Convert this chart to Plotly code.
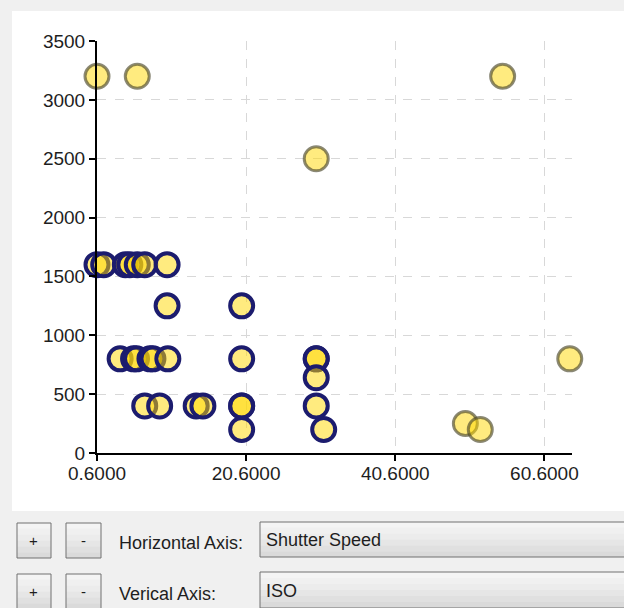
import plotly.graph_objects as go

# ---- data ----
shutter_selected = [0.6, 1.5, 4.4, 5.0, 6.0, 7.0, 10.0,
                    10.0, 20.0,
                    3.7, 5.5, 5.9, 7.7, 8.1, 10.1, 20.0, 30.0, 30.0,
                    30.0,
                    7.0, 9.0, 13.9, 14.8, 20.0, 20.0, 30.0,
                    20.0, 31.0]
iso_selected = [1600, 1600, 1600, 1600, 1600, 1600, 1600,
                1250, 1250,
                800, 800, 800, 800, 800, 800, 800, 800, 800,
                640,
                400, 400, 400, 400, 400, 400, 400,
                200, 200]

shutter_other = [0.6, 6.0, 55.0, 30.0, 64.0, 50.0, 52.0]
iso_other = [3200, 3200, 3200, 2500, 800, 250, 200]

x_ticks = [0.6, 20.6, 40.6, 60.6]
y_ticks = [0, 500, 1000, 1500, 2000, 2500, 3000, 3500]
x_range = [0.6, 64.3]
y_range = [0, 3500]

h_axis_label = "Horizontal Axis:"
v_axis_label = "Verical Axis:"
h_axis_value = "Shutter Speed"
v_axis_value = "ISO"

# ---- geometry (pixels) ----
W, H = 624, 608
L, R, T, B = 97, 572, 41, 453


def px(x):
    return (x - L) / (R - L)


def py(y):
    return (B - y) / (B - T)


FONT = "Liberation Sans"
TICKFONT = dict(family=FONT, size=19, color="#1e1e1e")

fig = go.Figure()
fig.add_trace(go.Scatter(
    x=shutter_other, y=iso_other, mode="markers", cliponaxis=False,
    marker=dict(size=24, color="rgba(255,215,0,0.5)",
                line=dict(color="rgba(75,72,45,0.65)", width=3)),
    hoverinfo="x+y", showlegend=False))
fig.add_trace(go.Scatter(
    x=shutter_selected, y=iso_selected, mode="markers", cliponaxis=False,
    marker=dict(size=23, color="rgba(255,215,0,0.5)",
                line=dict(color="#1c1c6e", width=4)),
    hoverinfo="x+y", showlegend=False))

shapes = []
# white chart panel
shapes.append(dict(type="rect", xref="paper", yref="paper",
                   x0=px(12), x1=px(630), y0=py(11), y1=py(511),
                   fillcolor="white", line=dict(width=0), layer="below"))

GRAD = ["#f4f4f4", "#f0f0f0", "#ececec", "#e6e6e6", "#e0e0e0", "#dadada"]


def button(x0, x1, y0, y1):
    n = len(GRAD)
    step = (y1 - y0) / n
    for i, c in enumerate(GRAD):
        shapes.append(dict(type="rect", xref="paper", yref="paper",
                           x0=px(x0), x1=px(x1),
                           y0=py(y0 + i * step), y1=py(y0 + (i + 1) * step),
                           fillcolor=c, line=dict(width=0), layer="above"))
    shapes.append(dict(type="rect", xref="paper", yref="paper",
                       x0=px(x0), x1=px(x1), y0=py(y0), y1=py(y1),
                       fillcolor="rgba(0,0,0,0)",
                       line=dict(color="#707070", width=1), layer="above"))


rows = [(523, 558), (574, 609)]
drops = [(522, 557), (572, 608)]
for (y0, y1) in rows:
    button(17, 51, y0, y1)
    button(66, 101, y0, y1)
for (y0, y1) in drops:
    button(260, 640, y0, y1)

ann = []
UIFONT = dict(family=FONT, size=18, color="#1e1e1e")
for (y0, y1), lab in zip(rows, [h_axis_label, v_axis_label]):
    yc = (y0 + y1) / 2
    ann.append(dict(text="+", x=px(34), y=py(yc), xref="paper", yref="paper",
                    showarrow=False, xanchor="center", yanchor="middle",
                    font=dict(family=FONT, size=15, color="#1e1e1e")))
    ann.append(dict(text="-", x=px(83.5), y=py(yc), xref="paper", yref="paper",
                    showarrow=False, xanchor="center", yanchor="middle",
                    font=dict(family=FONT, size=15, color="#1e1e1e")))
    ann.append(dict(text=lab, x=px(117), y=py(yc + 2), xref="paper", yref="paper",
                    showarrow=False, xanchor="left", yanchor="middle",
                    font=UIFONT))
for (y0, y1), val in zip(drops, [h_axis_value, v_axis_value]):
    yc = (y0 + y1) / 2 + 0.5
    ann.append(dict(text=val, x=px(264), y=py(yc), xref="paper", yref="paper",
                    showarrow=False, xanchor="left", yanchor="middle",
                    font=UIFONT))

axis_common = dict(
    showline=True, linecolor="black", linewidth=2,
    ticks="outside", ticklen=6, tickwidth=1.5, tickcolor="black",
    showgrid=True, gridcolor="#d8d8d8", gridwidth=1, griddash="dash",
    zeroline=False, tickfont=TICKFONT, fixedrange=True,
)

fig.update_layout(
    width=W, height=H, autosize=False,
    margin=dict(l=L, r=W - R, t=T, b=H - B, pad=0),
    paper_bgcolor="#f0f0f0", plot_bgcolor="white",
    xaxis=dict(range=x_range, tickvals=x_ticks, tickformat=".4f",
               ticklabelstandoff=-4, **axis_common),
    yaxis=dict(range=y_range, tickvals=y_ticks, **axis_common),
    shapes=shapes, annotations=ann, showlegend=False,
)

fig.write_html(
    "out.html",
    config={"displayModeBar": False},
    post_script="document.body.style.margin='0';document.body.style.overflow='hidden';",
)
